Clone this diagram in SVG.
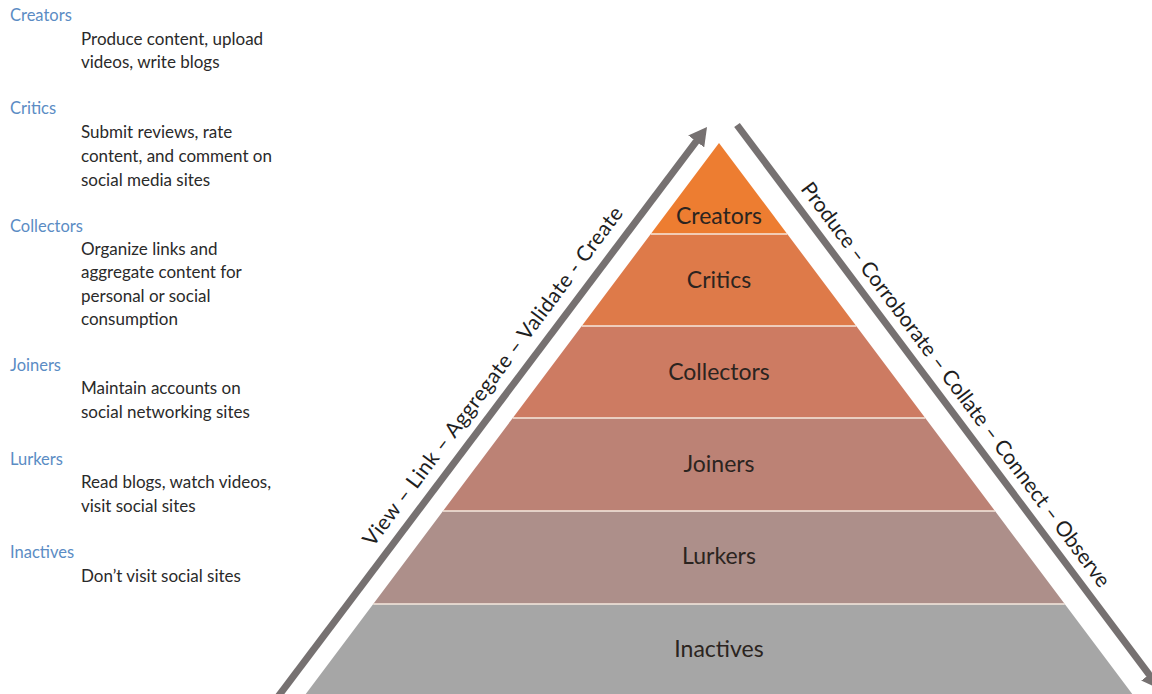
<svg xmlns="http://www.w3.org/2000/svg" width="1152" height="694" viewBox="0 0 1152 694">
<defs>
<style>
.hd{font-family:Lato,"Liberation Sans",sans-serif;font-size:16.5px;fill:#5B8CC4}
.ds{font-family:Lato,"Liberation Sans",sans-serif;font-size:17px;fill:#2a2a2a}
.lbl{font-family:Lato,"Liberation Sans",sans-serif;font-size:23px;fill:#2b2420;text-anchor:middle}
.flow{font-family:Lato,"Liberation Sans",sans-serif;font-size:21px;fill:#1e1e1e;text-anchor:middle}
.div{stroke:#F6E8DE;stroke-width:1.5}
.arr{stroke:#767171;stroke-width:7;fill:none}
</style>
<marker id="head" markerUnits="userSpaceOnUse" viewBox="0 0 18 20" markerWidth="18" markerHeight="20" refX="2" refY="10" orient="auto">
<path d="M0,0 L18,10 L0,20 z" fill="#767171"/>
</marker>
</defs>
<rect width="1152" height="694" fill="#ffffff"/>

<g id="legend">
<g id="legend-creators">
<text class="hd" x="10" y="21">Creators</text>
<text class="ds" x="81" y="45">Produce content, upload</text>
<text class="ds" x="81" y="68">videos, write blogs</text>
</g>
<g id="legend-critics">
<text class="hd" x="10" y="114">Critics</text>
<text class="ds" x="81" y="138">Submit reviews, rate</text>
<text class="ds" x="81" y="162">content, and comment on</text>
<text class="ds" x="81" y="186">social media sites</text>
</g>
<g id="legend-collectors">
<text class="hd" x="10" y="232">Collectors</text>
<text class="ds" x="81" y="255">Organize links and</text>
<text class="ds" x="81" y="278">aggregate content for</text>
<text class="ds" x="81" y="302">personal or social</text>
<text class="ds" x="81" y="325">consumption</text>
</g>
<g id="legend-joiners">
<text class="hd" x="10" y="371">Joiners</text>
<text class="ds" x="81" y="394">Maintain accounts on</text>
<text class="ds" x="81" y="418">social networking sites</text>
</g>
<g id="legend-lurkers">
<text class="hd" x="10" y="465">Lurkers</text>
<text class="ds" x="81" y="488">Read blogs, watch videos,</text>
<text class="ds" x="81" y="512">visit social sites</text>
</g>
<g id="legend-inactives">
<text class="hd" x="10" y="558">Inactives</text>
<text class="ds" x="81" y="582">Don’t visit social sites</text>
</g>
</g>

<g id="pyramid">
<g id="layer-creators">
<polygon points="719,143 787.25,234 650.75,234" fill="#ED7D31"/>
<text class="lbl" x="719" y="224">Creators</text>
</g>
<g id="layer-critics">
<polygon points="650.75,234 787.25,234 856.25,326 581.75,326" fill="#DE7A49"/>
<text class="lbl" x="719" y="288">Critics</text>
</g>
<g id="layer-collectors">
<polygon points="581.75,326 856.25,326 925.25,418 512.75,418" fill="#CD7B62"/>
<text class="lbl" x="719" y="380">Collectors</text>
</g>
<g id="layer-joiners">
<polygon points="512.75,418 925.25,418 995,511 443,511" fill="#BC8275"/>
<text class="lbl" x="719" y="472">Joiners</text>
</g>
<g id="layer-lurkers">
<polygon points="443,511 995,511 1064.75,604 373.25,604" fill="#AD8F8A"/>
<text class="lbl" x="719" y="564">Lurkers</text>
</g>
<g id="layer-inactives">
<polygon points="373.25,604 1064.75,604 1136.75,700 301.25,700" fill="#A6A6A6"/>
<text class="lbl" x="719" y="657">Inactives</text>
</g>
<line class="div" x1="650.75" y1="234" x2="787.25" y2="234"/>
<line class="div" x1="581.75" y1="326" x2="856.25" y2="326"/>
<line class="div" x1="512.75" y1="418" x2="925.25" y2="418"/>
<line class="div" x1="443" y1="511" x2="995" y2="511"/>
<line class="div" x1="373.25" y1="604" x2="1064.75" y2="604"/>
</g>

<g id="connectors">
<line class="arr" x1="275.5" y1="700" x2="697.4" y2="139.8" marker-end="url(#head)"/>
<line class="arr" x1="737" y1="125" x2="1150.4" y2="676.2" marker-end="url(#head)"/>
<text class="flow" transform="translate(498.5,380.6) rotate(-53.13)" textLength="418">View – Link – Aggregate – Validate - Create</text>
<text class="flow" transform="translate(950,389) rotate(53.13)" textLength="500">Produce – Corroborate – Collate – Connect – Observe</text>
</g>
</svg>
